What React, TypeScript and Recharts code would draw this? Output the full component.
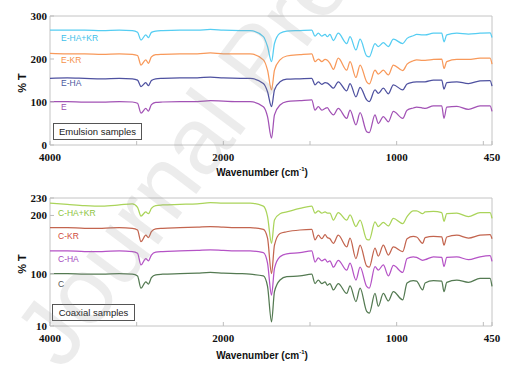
import React from 'react';
import { LineChart, Line, XAxis, YAxis, ReferenceArea } from 'recharts';

// wavenumber grid (cm-1)
const wavenumbers = [
  4000, 3800, 3600, 3400, 3200, 3050, 2990, 2950, 2895, 2865, 2830, 2780, 2700, 2500, 2300, 2150, 2000, 1900,
  1846, 1769, 1745, 1722, 1705, 1673, 1634, 1558, 1490, 1471, 1452, 1432, 1413, 1400, 1385, 1365, 1337, 1288,
  1269, 1235, 1211, 1173, 1158, 1125, 1106, 1077, 1048, 1019, 965, 940, 904, 885, 850, 836, 788, 740, 727, 711,
  653, 586, 519, 461, 450,
];

// emulsion samples (% T, stacked)
const eHaKr = [
  267, 267, 267, 266, 267, 266, 262, 244, 256, 250, 262, 265, 266, 267, 267, 269, 267, 266,
  266, 252, 229, 194, 236, 260, 265, 266, 267, 253, 260, 253, 257, 252, 257, 243, 260, 236,
  252, 221, 246, 207, 205, 236, 229, 238, 229, 246, 236, 248, 254, 257, 256, 256, 260, 260, 240, 256,
  260, 258, 260, 261, 250,
];
const eKr = [
  213, 212, 212, 211, 212, 211, 208, 186, 198, 190, 205, 210, 211, 212, 212, 214, 212, 212,
  212, 198, 174, 128, 174, 198, 207, 210, 212, 194, 200, 194, 199, 197, 190, 176, 202, 174,
  194, 157, 186, 147, 142, 174, 165, 174, 163, 186, 173, 188, 196, 198, 197, 197, 199, 200, 178, 194,
  199, 199, 202, 202, 188,
];
const eHa = [
  155, 156, 155, 154, 155, 154, 151, 136, 145, 138, 150, 154, 155, 156, 156, 158, 156, 155,
  155, 143, 124, 89, 128, 147, 153, 154, 155, 140, 147, 141, 145, 144, 139, 132, 147, 126,
  143, 112, 134, 105, 101, 128, 120, 132, 119, 140, 128, 142, 146, 147, 147, 147, 151, 151, 130, 145,
  147, 143, 149, 150, 137,
];
const e = [
  101, 101, 100, 100, 101, 100, 97, 74, 85, 79, 94, 99, 100, 101, 101, 103, 102, 101,
  101, 89, 66, 16, 70, 93, 101, 103, 105, 81, 89, 81, 85, 87, 78, 70, 85, 62,
  81, 47, 75, 31, 29, 70, 50, 66, 54, 78, 62, 81, 86, 88, 86, 85, 91, 91, 62, 88,
  90, 83, 91, 91, 78,
];

// coaxial samples
const cHaKr = [
  221, 219, 217, 216, 218, 220, 214, 199, 206, 203, 212, 217, 218, 219, 220, 222, 221, 221,
  221, 216, 198, 152, 192, 203, 206, 212, 216, 204, 208, 204, 206, 204, 204, 192, 205, 192,
  201, 181, 192, 159, 158, 189, 181, 188, 182, 195, 186, 198, 208, 208, 203, 206, 207, 205, 190, 203,
  204, 198, 205, 205, 195,
];
const cKr = [
  179, 179, 178, 178, 179, 178, 175, 155, 166, 162, 172, 177, 178, 179, 180, 181, 180, 179,
  179, 176, 161, 100, 149, 169, 172, 175, 176, 158, 166, 160, 167, 162, 160, 152, 166, 146,
  161, 126, 149, 113, 111, 144, 130, 149, 132, 146, 138, 160, 164, 163, 152, 162, 164, 163, 149, 163,
  166, 161, 166, 167, 160,
];
const cHa = [
  139, 139, 138, 138, 139, 138, 135, 115, 126, 122, 132, 137, 138, 139, 140, 141, 140, 139,
  139, 136, 118, 63, 109, 129, 134, 136, 139, 120, 127, 122, 125, 120, 122, 111, 123, 106,
  118, 89, 111, 78, 75, 112, 106, 115, 96, 114, 102, 126, 129, 128, 123, 124, 129, 128, 112, 128,
  129, 124, 129, 131, 121,
];
const c = [
  100, 100, 99, 99, 100, 99, 96, 75, 86, 82, 93, 98, 99, 100, 101, 102, 101, 100,
  99, 96, 78, 17, 69, 89, 95, 96, 99, 83, 89, 83, 86, 80, 83, 72, 83, 66,
  79, 52, 75, 35, 32, 66, 44, 66, 53, 69, 55, 84, 88, 87, 72, 84, 88, 87, 69, 85,
  89, 85, 92, 92, 78,
];

const emulsionTicks = [0, 100, 200, 300];
const coaxialTicks = [10, 100, 200, 230];
const xTickLabels: Record<number, string> = { 0: '4000', 1000: '2000', 2000: '1000', 2550: '450' };

// axis is split at 2000: 4000-2000 drawn at half scale
const toAxis = (w: number) => (w >= 2000 ? (4000 - w) / 2 : 3000 - w);

const data = wavenumbers.map((w, i) => ({
  t: toAxis(w),
  eHaKr: eHaKr[i], eKr: eKr[i], eHa: eHa[i], e: e[i],
  cHaKr: cHaKr[i], cKr: cKr[i], cHa: cHa[i], c: c[i],
}));

const emulsionSeries = [
  { key: 'eHaKr', name: 'E-HA+KR', color: '#55cdf2', text: '#3cbfea', y: 38 },
  { key: 'eKr', name: 'E-KR', color: '#f8995a', text: '#f5914a', y: 60 },
  { key: 'eHa', name: 'E-HA', color: '#4e51a0', text: '#4b57a0', y: 83 },
  { key: 'e', name: 'E', color: '#a252b5', text: '#9b4db0', y: 107 },
];
const coaxialSeries = [
  { key: 'cHaKr', name: 'C-HA+KR', color: '#aad45a', text: '#8cc43c', y: 213 },
  { key: 'cKr', name: 'C-KR', color: '#c3654f', text: '#d04a3c', y: 236 },
  { key: 'cHa', name: 'C-HA', color: '#b553c6', text: '#a348c0', y: 259 },
  { key: 'c', name: 'C', color: '#547a52', text: '#555555', y: 284 },
];

const tickFont = { fontFamily: '"Liberation Serif", serif', fontWeight: 'bold', fontSize: 11, fill: '#111' };
const sans = '"Liberation Sans", Arial, sans-serif';

const Panel = ({ top, height, bottomMargin, domain, ticks, series }: any) => (
  <div style={{ position: 'absolute', left: 0, top }}>
    <LineChart width={514} height={height} data={data} margin={{ top: 16 + (top ? 2 : 0), right: 22, bottom: bottomMargin, left: 0 }}>
      <XAxis
        dataKey="t"
        type="number"
        domain={[0, 2550]}
        ticks={[0, 500, 1000, 1500, 2000, 2500, 2550]}
        tickFormatter={(v: number) => xTickLabels[v] || ''}
        axisLine={false}
        tickLine={{ stroke: '#bdbdbd' }}
        tickSize={-4}
        tickMargin={12}
        height={25}
        tick={tickFont}
        interval={0}
      />
      <YAxis
        type="number"
        domain={domain}
        ticks={ticks}
        axisLine={false}
        tickLine={{ stroke: '#bdbdbd' }}
        tickSize={-4}
        tickMargin={7}
        width={50}
        tick={tickFont}
        interval={0}
      />
      <ReferenceArea x1={0} x2={2550} y1={domain[0]} y2={domain[1]} fill="none" stroke="#c4c4c4" strokeWidth={1} ifOverflow="visible" />
      {series.map((s: any) => (
        <Line
          key={s.key}
          dataKey={s.key}
          type="monotone"
          stroke={s.color}
          strokeWidth={1.25}
          dot={false}
          isAnimationActive={false}
        />
      ))}
    </LineChart>
  </div>
);

const App = () => {
  const labelStyle = (x: number, y: number, color: string): React.CSSProperties => ({
    position: 'absolute', left: x, top: y, transform: 'translateY(-50%)', color,
    fontFamily: sans, fontSize: 8.5, whiteSpace: 'nowrap',
  });
  const titleStyle = (y: number): React.CSSProperties => ({
    position: 'absolute', left: 262, top: y, transform: 'translate(-50%,-50%)',
    fontFamily: sans, fontWeight: 'bold', fontSize: 10, whiteSpace: 'nowrap', color: '#111',
  });
  const yTitleStyle = (y: number): React.CSSProperties => ({
    position: 'absolute', left: 22, top: y, transform: 'translate(-50%,-50%) rotate(-90deg)',
    fontFamily: sans, fontWeight: 'bold', fontSize: 11, whiteSpace: 'nowrap', color: '#111',
  });
  const boxStyle = (x: number, y: number, w: number): React.CSSProperties => ({
    position: 'absolute', left: x, top: y, width: w, height: 17, boxSizing: 'border-box',
    border: '1px solid #555', background: '#fff', fontFamily: sans, fontSize: 9.5,
    display: 'flex', alignItems: 'center', justifyContent: 'center', color: '#222',
  });

  return (
    <div style={{ position: 'absolute', left: 0, top: 0, width: 514, height: 375, background: '#fff', overflow: 'hidden' }}>
      <Panel top={0} height={180} bottomMargin={10} domain={[0, 300]} ticks={emulsionTicks} series={emulsionSeries} />
      <Panel top={180} height={195} bottomMargin={24} domain={[10, 230]} ticks={coaxialTicks} series={coaxialSeries} />

      {emulsionSeries.map((s) => (
        <div key={s.key} style={labelStyle(61, s.y, s.text)}>{s.name}</div>
      ))}
      {coaxialSeries.map((s) => (
        <div key={s.key} style={labelStyle(58, s.y, s.text)}>{s.name}</div>
      ))}

      <div style={boxStyle(53, 123, 89)}>Emulsion samples</div>
      <div style={boxStyle(52, 304, 83)}>Coaxial samples</div>

      <div style={yTitleStyle(83)}>% T</div>
      <div style={yTitleStyle(264)}>% T</div>
      <div style={titleStyle(172)}>Wavenumber (cm<sup style={{ fontSize: 6 }}>-1</sup>)</div>
      <div style={titleStyle(355)}>Wavenumber (cm<sup style={{ fontSize: 6 }}>-1</sup>)</div>

      {/* watermark */}
      <div
        style={{
          position: 'absolute', left: 62, top: 372 - 80, fontSize: 95, lineHeight: 1, fontFamily: sans,
          color: 'rgba(150,150,150,0.18)', transform: 'rotate(-53deg)', transformOrigin: '0 80px',
          whiteSpace: 'nowrap', pointerEvents: 'none',
        }}
      >
        Journal Pre-proof
      </div>
    </div>
  );
};

export default App;
